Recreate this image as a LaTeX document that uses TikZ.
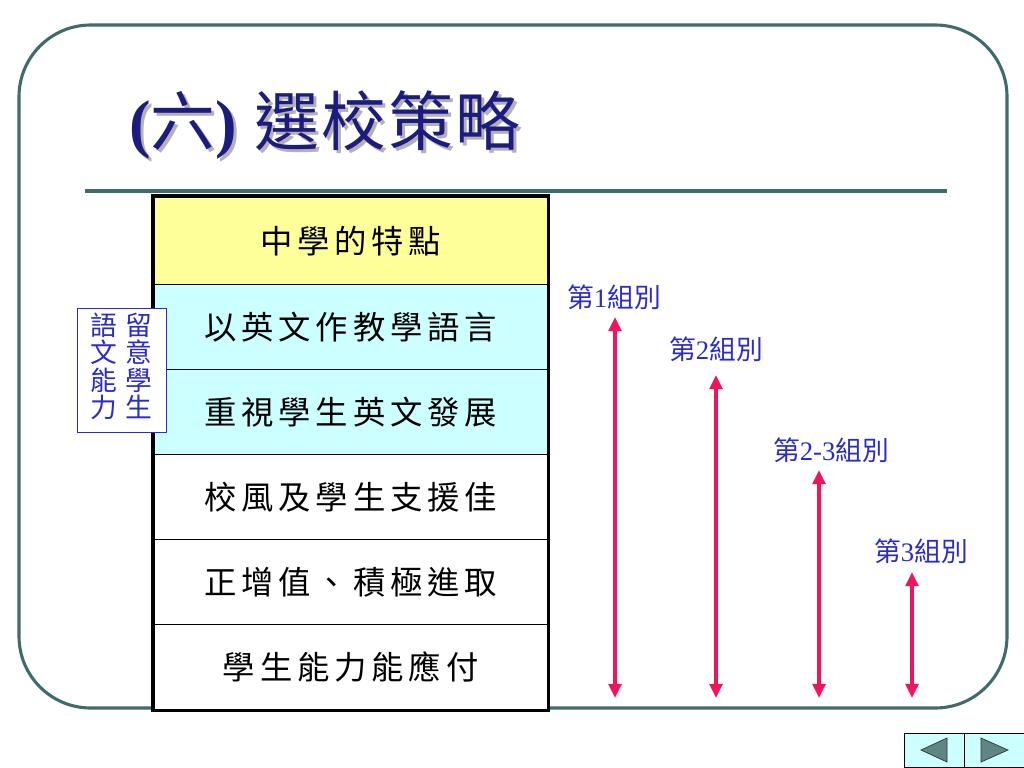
\documentclass[tikz,border=0pt]{standalone}
\usepackage{fontspec}
\setmainfont{Liberation Serif}
\newfontfamily\cjk{Noto Sans CJK TC}
\newfontfamily\cjkwide[LetterSpace=15]{Noto Sans CJK TC}
\newfontfamily\cjktitle[LetterSpace=4]{Noto Sans CJK TC}
\usetikzlibrary{arrows.meta, positioning}
\definecolor{framegreen}{HTML}{3F6B6B}
\definecolor{titleblue}{HTML}{1C1C7E}
\definecolor{cellyellow}{HTML}{FFFF99}
\definecolor{cellcyan}{HTML}{CCFFFF}
\definecolor{labelblue}{HTML}{2B2BC8}
\definecolor{arrowpink}{HTML}{F0145A}
\definecolor{navgray}{HTML}{5F8585}
\tikzset{
  cell/.style={
    rectangle, draw=black, line width=0.9pt, fill=#1,
    minimum width=9.85cm, minimum height=2.125cm, inner sep=0pt,
    anchor=north west, font=\fontsize{23}{23}\selectfont\cjkwide
  },
  cell/.default=white,
  grouplabel/.style={text=labelblue, inner sep=0pt, font=\fontsize{19}{19}\selectfont},
  span/.style={{Triangle[length=10pt,width=9pt]}-{Triangle[length=10pt,width=9pt]},
    line width=2.8pt, draw=arrowpink},
  navbtn/.style={rectangle, draw=black, line width=0.6pt, fill=cellcyan,
    minimum width=1.5cm, minimum height=0.85cm, inner sep=0pt},
  navtri/.style={fill=navgray, draw=black!80, line width=0.5pt},
  heading/.style={font=\fontsize{46}{46}\selectfont\cjktitle, inner sep=0pt}
}

\begin{document}
\begin{tikzpicture}[x=0.025cm, y=-0.025cm]
  \useasboundingbox (0,0) rectangle (1024,768);

  % frame and title
  \draw[framegreen, line width=2.2pt, rounded corners=51pt] (19,25) rectangle (1007,708);
  \node[heading, text=black!30] (titleshadow) at (328,128)
    {{\bfseries\rmfamily(}六{\bfseries\rmfamily)} 選校策略};
  \node[heading, text=titleblue] (title) at (325,125)
    {{\bfseries\rmfamily(}六{\bfseries\rmfamily)} 選校策略};
  \draw[framegreen, line width=2.9pt] (85,191) -- (947,191);

  % table
  \node[cell=cellyellow, minimum height=2.2cm] (head) at (153,196) {中學的特點};
  \node[cell=cellcyan] (rowa) at (153,284) {以英文作教學語言};
  \node[cell=cellcyan] (rowb) at (153,369) {重視學生英文發展};
  \node[cell] (rowc) at (153,454) {校風及學生支援佳};
  \node[cell] (rowd) at (153,539) {正增值、積極進取};
  \node[cell] (rowe) at (153,624) {學生能力能應付};
  \draw[black, line width=2.2pt] (head.north west) rectangle (rowe.south east);

  % side note
  \node[draw=labelblue, line width=0.6pt, fill=white, text=labelblue,
    minimum width=2.225cm, minimum height=3.1cm, inner sep=0pt, align=center,
    font=\fontsize{19}{19.5}\selectfont\cjk] (note) at (121.5,370)
    {語\hspace{6pt}留\\文\hspace{6pt}意\\能\hspace{6pt}學\\力\hspace{6pt}生\rule[-7pt]{0pt}{7pt}};

  % group ranges
  \coordinate (g1top) at (615,317);
  \coordinate (g1bot) at (615,698);
  \coordinate (g2top) at (716,375);
  \coordinate (g2bot) at (716,698);
  \coordinate (g3top) at (819,470);
  \coordinate (g3bot) at (819,698);
  \coordinate (g4top) at (912,572);
  \coordinate (g4bot) at (912,698);
  \draw[span] (g1top) -- (g1bot);
  \draw[span] (g2top) -- (g2bot);
  \draw[span] (g3top) -- (g3bot);
  \draw[span] (g4top) -- (g4bot);
  \node[grouplabel] (g1label) at (614,297) {{\cjk 第}1{\cjk 組別}};
  \node[grouplabel] (g2label) at (716,349) {{\cjk 第}2{\cjk 組別}};
  \node[grouplabel] (g3label) at (831,450) {{\cjk 第}2-3{\cjk 組別}};
  \node[grouplabel] (g4label) at (921,551) {{\cjk 第}3{\cjk 組別}};

  % navigation buttons
  \node[navbtn] (navprev) at (934,750) {};
  \node[navbtn] (navnext) at (994,750) {};
  \filldraw[navtri] (921,750) -- (947,738) -- (947,762) -- cycle;
  \filldraw[navtri] (981,738) -- (1008,750) -- (981,762) -- cycle;
\end{tikzpicture}
\end{document}
